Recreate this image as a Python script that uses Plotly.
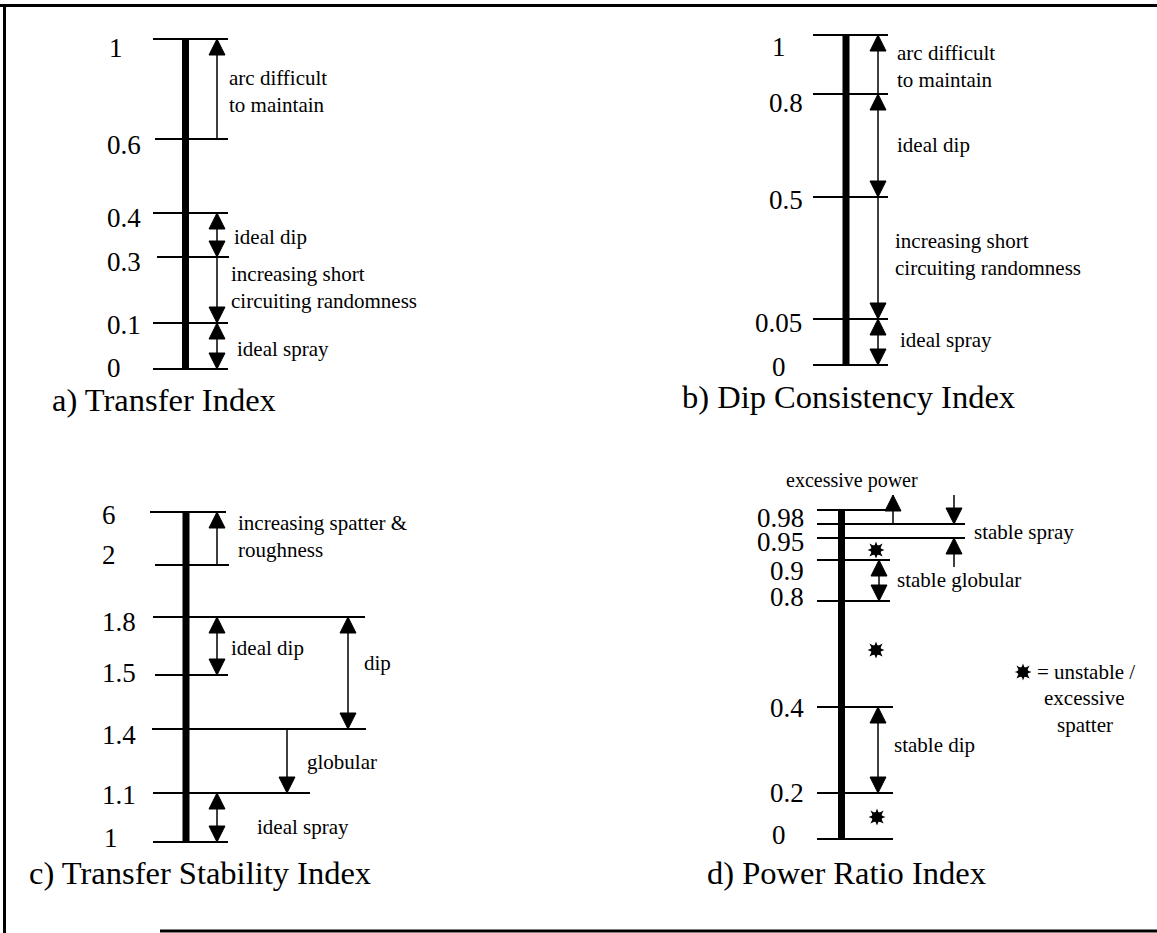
import plotly.graph_objects as go

W, H = 1157, 933
SERIF = "Liberation Serif, Times New Roman, serif"

# ---- scale values, zone names and captions for the four indices ----
A_TICKS = ["1", "0.6", "0.4", "0.3", "0.1", "0"]
A_ZONES = ["arc difficult<br>to maintain", "ideal dip",
           "increasing short<br>circuiting randomness", "ideal spray"]

B_TICKS = ["1", "0.8", "0.5", "0.05", "0"]
B_ZONES = ["arc difficult<br>to maintain", "ideal dip",
           "increasing short<br>circuiting randomness", "ideal spray"]

C_TICKS = ["6", "2", "1.8", "1.5", "1.4", "1.1", "1"]
C_ZONES = ["increasing spatter &<br>roughness", "ideal dip", "dip",
           "globular", "ideal spray"]

D_TICKS = ["0.98", "0.95", "0.9", "0.8", "0.4", "0.2", "0"]
D_ZONES = ["excessive power", "stable spray", "stable globular", "stable dip"]
D_KEY = ["= unstable /", "excessive", "spatter"]

TITLES = ["a) Transfer Index", "b) Dip Consistency Index",
          "c) Transfer Stability Index", "d) Power Ratio Index"]

# ---- drawing layout (page pixels, y grows downwards) ----
PANELS = [
    dict(ticks=A_TICKS, zones=A_ZONES,
         bar=(185.5, 39, 369),
         lines=[(39, 153, 228), (139, 155, 228), (213, 153, 228),
                (257, 157, 229), (323, 153, 228), (369, 153, 228)],
         tick_pos=[(107, 48), (105, 145), (105, 218), (105, 262), (105, 325), (105, 368)],
         arrows=[(217, 139, 39, False, True), (217, 213, 257, True, True),
                 (217, 257, 323, False, True), (217, 323, 369, True, True)],
         zone_pos=[(227, 91, "left"), (232, 237, "left"), (229, 287, "left"), (235, 349, "left")],
         title_pos=(50, 400)),
    dict(ticks=B_TICKS, zones=B_ZONES,
         bar=(846, 35, 365),
         lines=[(35, 813, 888), (94, 813, 888), (197, 813, 888),
                (319, 813, 888), (365, 813, 888)],
         tick_pos=[(770, 47), (767, 103), (767, 200), (753, 323), (770, 367)],
         arrows=[(878, 94, 35, False, True), (878, 94, 197, True, True),
                 (878, 197, 319, False, True), (878, 319, 365, True, True)],
         zone_pos=[(895, 66, "left"), (895, 145, "left"), (893, 254, "left"), (898, 340, "left")],
         title_pos=(680, 397)),
    dict(ticks=C_TICKS, zones=C_ZONES,
         bar=(186, 512, 842),
         lines=[(512, 150, 226), (565, 155, 229), (617, 153, 365), (675, 155, 228),
                (729, 152, 366), (793, 153, 310), (842, 153, 228)],
         tick_pos=[(100, 515), (100, 555), (100, 622), (100, 673), (100, 735), (100, 795), (102, 838)],
         arrows=[(217, 565, 512, False, True), (217, 617, 675, True, True),
                 (348, 617, 729, True, True), (287, 729, 793, False, True),
                 (217, 793, 842, True, True)],
         zone_pos=[(236, 536, "left"), (229, 648, "left"), (362, 663, "left"),
                   (305, 762, "left"), (255, 827, "left")],
         title_pos=(27, 873)),
    dict(ticks=D_TICKS, zones=D_ZONES,
         bar=(841.5, 510, 839),
         lines=[(510, 817, 887), (524, 817, 965), (538, 817, 965), (560, 817, 890),
                (601, 817, 890), (707, 817, 893), (793, 817, 893), (839, 817, 893)],
         tick_pos=[(755, 518), (755, 542), (768, 571), (768, 597), (768, 708), (768, 793), (770, 835)],
         arrows=[(893, 524, 495, False, True), (954, 495, 524, False, True),
                 (954, 567, 538, False, True), (879, 560, 601, True, True),
                 (878, 707, 793, True, True)],
         zone_pos=[(852, 480, "center"), (972, 532, "left"), (895, 580, "left"), (892, 745, "left")],
         title_pos=(705, 873)),
]
UNSTABLE_MARKS = [(876, 550), (876, 650), (877, 817)]
KEY_MARK = (1023, 672)
KEY_TEXT_POS = [(1035, 672, "left"), (1084, 698, "center"), (1085, 725, "center")]

TICK_SIZE = 27
ZONE_SIZE = 21
SMALL_ZONE_SIZE = 20
TITLE_SIZE = 32.5
HEAD_W, HEAD_L = 16, 16

shapes = []
annotations = []


def line(x0, y0, x1, y1, w):
    shapes.append(dict(type="line", xref="x", yref="y", x0=x0, y0=y0, x1=x1, y1=y1,
                       line=dict(color="black", width=w)))


def head(x, tip, direction):
    # direction -1: points up (towards smaller y), +1: points down
    base = tip - direction * HEAD_L
    path = f"M {x},{tip} L {x - HEAD_W / 2},{base} L {x + HEAD_W / 2},{base} Z"
    shapes.append(dict(type="path", xref="x", yref="y", path=path,
                       fillcolor="black", line=dict(color="black", width=1)))


def arrow(x, y_from, y_to, head_from, head_to):
    line(x, y_from, x, y_to, 1.5)
    d = 1 if y_to > y_from else -1
    if head_to:
        head(x, y_to, d)
    if head_from:
        head(x, y_from, -d)


def text(s, x, y, size, anchor="left"):
    annotations.append(dict(text=s, x=x, y=y, xref="x", yref="y", showarrow=False,
                            xanchor=anchor, yanchor="middle", align=anchor,
                            font=dict(family=SERIF, size=size, color="black")))


# page frame (open at the lower left corner)
line(0, 5.5, W, 5.5, 3)
line(4.5, 5, 4.5, H, 3)
line(160, 931, W, 931, 3)

for p, title in zip(PANELS, TITLES):
    for (y, x0, x1) in p["lines"]:
        line(x0, y, x1, y, 2)
    bx, by0, by1 = p["bar"]
    line(bx, by0, bx, by1, 7)
    for lab, (x, y) in zip(p["ticks"], p["tick_pos"]):
        text(lab, x, y, TICK_SIZE)
    for a in p["arrows"]:
        arrow(*a)
    for z, (x, y, anc) in zip(p["zones"], p["zone_pos"]):
        size = SMALL_ZONE_SIZE if z == "excessive power" else ZONE_SIZE
        text(z, x, y, size, anc)
    text(title, p["title_pos"][0], p["title_pos"][1], TITLE_SIZE)

for s, (x, y, anc) in zip(D_KEY, KEY_TEXT_POS):
    text(s, x, y, ZONE_SIZE, anc)

mx = [m[0] for m in UNSTABLE_MARKS] + [KEY_MARK[0]]
my = [m[1] for m in UNSTABLE_MARKS] + [KEY_MARK[1]]

fig = go.Figure()
for sym in ["star-square", "star-diamond"]:
    fig.add_trace(go.Scatter(x=mx, y=my, mode="markers", hoverinfo="skip",
                             marker=dict(symbol=sym, size=12, color="black",
                                         line=dict(width=0))))

fig.update_layout(
    width=W, height=H, margin=dict(l=0, r=0, t=0, b=0),
    paper_bgcolor="white", plot_bgcolor="white", showlegend=False,
    xaxis=dict(range=[0, W], visible=False, fixedrange=True),
    yaxis=dict(range=[H, 0], visible=False, fixedrange=True),
    shapes=shapes, annotations=annotations,
)

fig.write_html("out.html")
